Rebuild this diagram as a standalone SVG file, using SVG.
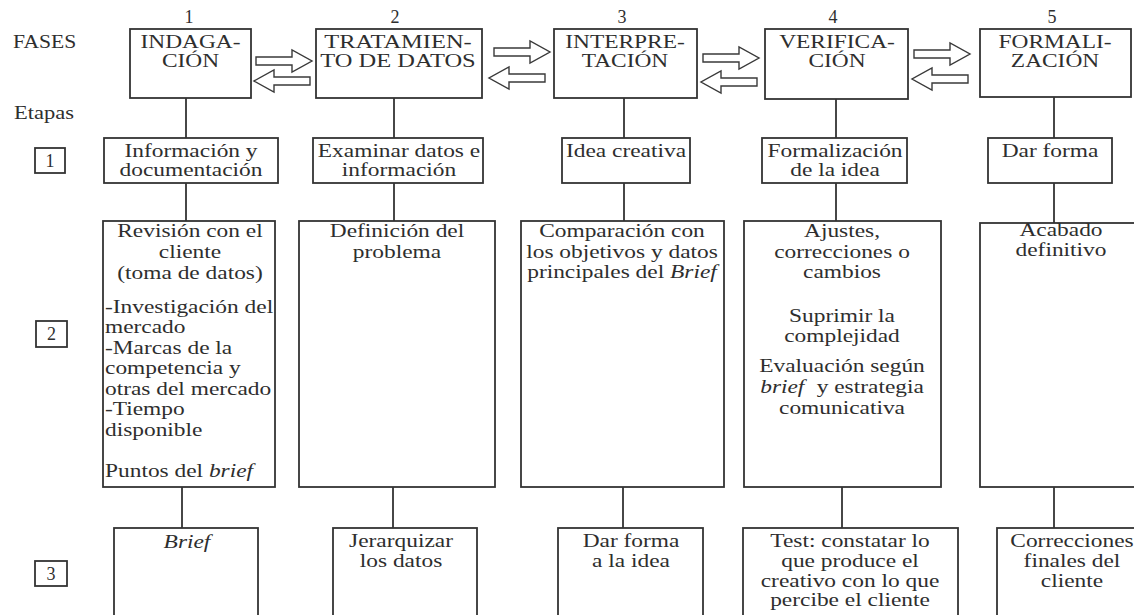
<svg xmlns="http://www.w3.org/2000/svg" width="1134" height="615" viewBox="0 0 1134 615">
  <style>
    .box { fill: #fff; stroke: #333; stroke-width: 1.8; }
    .ln { stroke: #333; stroke-width: 1.8; fill: none; }
    .arr { fill: #fff; stroke: #3a3a3a; stroke-width: 1.4; stroke-linejoin: miter; }
    text { font-family: "Liberation Serif", "Times New Roman", serif; font-size: 18px; fill: #2e2e2e; }
    .c { text-anchor: middle; }
    .i { font-style: italic; }
  </style>
  <defs>
    <!-- hollow block arrow, tail at origin, pointing right -->
    <path id="arrow-r" d="M0,-4H36V-11L56,0L36,11V4H0Z"/>
  </defs>

  <rect width="1134" height="615" fill="#fff"/>

  <!-- row labels -->
  <g id="row-labels">
    <text transform="matrix(1.2 0 0 1 13 0)" x="0" y="48">FASES</text>
    <text transform="matrix(1.25 0 0 1 14 0)" x="0" y="119">Etapas</text>
    <rect class="box" x="35" y="148" width="30" height="25"/>
    <text class="c" x="50" y="167">1</text>
    <rect class="box" x="36" y="321" width="31" height="26"/>
    <text class="c" x="51.5" y="340">2</text>
    <rect class="box" x="35" y="561" width="32" height="25"/>
    <text class="c" x="51" y="580">3</text>
  </g>

  <!-- connectors -->
  <g id="connectors">
    <line class="ln" x1="186" y1="98" x2="186" y2="138"/>
    <line class="ln" x1="186" y1="183" x2="186" y2="221"/>
    <line class="ln" x1="182" y1="487" x2="182" y2="528"/>
    <line class="ln" x1="394" y1="98" x2="394" y2="138"/>
    <line class="ln" x1="394" y1="183" x2="394" y2="221"/>
    <line class="ln" x1="393" y1="487" x2="393" y2="528"/>
    <line class="ln" x1="624" y1="98" x2="624" y2="138"/>
    <line class="ln" x1="624" y1="183" x2="624" y2="221"/>
    <line class="ln" x1="623" y1="487" x2="623" y2="528"/>
    <line class="ln" x1="836" y1="99" x2="836" y2="138"/>
    <line class="ln" x1="836" y1="183" x2="836" y2="221"/>
    <line class="ln" x1="842" y1="487" x2="842" y2="528"/>
    <line class="ln" x1="1054" y1="97" x2="1054" y2="138"/>
    <line class="ln" x1="1054" y1="183" x2="1054" y2="223"/>
    <line class="ln" x1="1054" y1="487" x2="1054" y2="528"/>

    <use href="#arrow-r" class="arr" transform="translate(256,61)"/>
    <use href="#arrow-r" class="arr" transform="translate(310,81) scale(-1,1)"/>
    <use href="#arrow-r" class="arr" transform="translate(494,52)"/>
    <use href="#arrow-r" class="arr" transform="translate(545,78) scale(-1,1)"/>
    <use href="#arrow-r" class="arr" transform="translate(703,58)"/>
    <use href="#arrow-r" class="arr" transform="translate(757,82) scale(-1,1)"/>
    <use href="#arrow-r" class="arr" transform="translate(914,54)"/>
    <use href="#arrow-r" class="arr" transform="translate(968,79) scale(-1,1)"/>
  </g>

  <!-- phases -->
  <g id="fase-1">
    <text class="c" x="189" y="23">1</text>
    <rect class="box" x="130" y="29" width="121" height="69"/>
    <text class="c" transform="matrix(1.3 0 0 1 190.5 0)"><tspan x="0" y="48">INDAGA-</tspan><tspan x="0" y="67">CIÓN</tspan></text>
  </g>
  <g id="fase-2">
    <text class="c" x="395" y="23">2</text>
    <rect class="box" x="316" y="29" width="166" height="69"/>
    <text class="c" transform="matrix(1.36 0 0 1 398 0)"><tspan x="0" y="48">TRATAMIEN-</tspan><tspan x="0" y="67">TO DE DATOS</tspan></text>
  </g>
  <g id="fase-3">
    <text class="c" x="622" y="23">3</text>
    <rect class="box" x="554" y="29" width="143" height="69"/>
    <text class="c" transform="matrix(1.3 0 0 1 625 0)"><tspan x="0" y="48">INTERPRE-</tspan><tspan x="0" y="67">TACIÓN</tspan></text>
  </g>
  <g id="fase-4">
    <text class="c" x="833" y="23">4</text>
    <rect class="box" x="765" y="29" width="143" height="70"/>
    <text class="c" transform="matrix(1.3 0 0 1 837 0)"><tspan x="0" y="48">VERIFICA-</tspan><tspan x="0" y="67">CIÓN</tspan></text>
  </g>
  <g id="fase-5">
    <text class="c" x="1052" y="23">5</text>
    <rect class="box" x="980" y="29" width="151" height="68"/>
    <text class="c" transform="matrix(1.3 0 0 1 1055 0)"><tspan x="0" y="48">FORMALI-</tspan><tspan x="0" y="67">ZACIÓN</tspan></text>
  </g>

  <!-- stage 1 -->
  <g id="etapa1-fase1">
    <rect class="box" x="104" y="138" width="174" height="45"/>
    <text class="c" transform="matrix(1.3 0 0 1 191 0)"><tspan x="0" y="157">Información y</tspan><tspan x="0" y="176">documentación</tspan></text>
  </g>
  <g id="etapa1-fase2">
    <rect class="box" x="313" y="138" width="170" height="45"/>
    <text class="c" transform="matrix(1.3 0 0 1 399 0)"><tspan x="0" y="157">Examinar datos e</tspan><tspan x="0" y="176">información</tspan></text>
  </g>
  <g id="etapa1-fase3">
    <rect class="box" x="562" y="138" width="128" height="45"/>
    <text class="c" transform="matrix(1.3 0 0 1 626 0)"><tspan x="0" y="157">Idea creativa</tspan></text>
  </g>
  <g id="etapa1-fase4">
    <rect class="box" x="762" y="138" width="145" height="45"/>
    <text class="c" transform="matrix(1.3 0 0 1 835 0)"><tspan x="0" y="157">Formalización</tspan><tspan x="0" y="176">de la idea</tspan></text>
  </g>
  <g id="etapa1-fase5">
    <rect class="box" x="988" y="138" width="124" height="45"/>
    <text class="c" transform="matrix(1.3 0 0 1 1050 0)"><tspan x="0" y="157">Dar forma</tspan></text>
  </g>

  <!-- stage 2 -->
  <g id="etapa2-fase1">
    <rect class="box" x="103" y="221" width="172" height="266"/>
    <text class="c" transform="matrix(1.3 0 0 1 190 0)"><tspan x="0" y="237">Revisión con el</tspan><tspan x="0" y="258">cliente</tspan><tspan x="0" y="279">(toma de datos)</tspan></text>
    <text transform="matrix(1.3 0 0 1 105 0)"><tspan x="0" y="313">-Investigación del</tspan><tspan x="0" y="333.5">mercado</tspan><tspan x="0" y="354">-Marcas de la</tspan><tspan x="0" y="374.5">competencia y</tspan><tspan x="0" y="395">otras del mercado</tspan><tspan x="0" y="415.5">-Tiempo</tspan><tspan x="0" y="436">disponible</tspan><tspan x="0" y="477">Puntos del <tspan class="i">brief</tspan></tspan></text>
  </g>
  <g id="etapa2-fase2">
    <rect class="box" x="299" y="221" width="196" height="266"/>
    <text class="c" transform="matrix(1.3 0 0 1 397 0)"><tspan x="0" y="237">Definición del</tspan><tspan x="0" y="258">problema</tspan></text>
  </g>
  <g id="etapa2-fase3">
    <rect class="box" x="521" y="221" width="203" height="266"/>
    <text class="c" transform="matrix(1.3 0 0 1 622 0)"><tspan x="0" y="237">Comparación con</tspan><tspan x="0" y="258">los objetivos y datos</tspan><tspan x="0" y="278">principales del <tspan class="i">Brief</tspan></tspan></text>
  </g>
  <g id="etapa2-fase4">
    <rect class="box" x="744" y="221" width="197" height="266"/>
    <text class="c" transform="matrix(1.3 0 0 1 842 0)"><tspan x="0" y="237">Ajustes,</tspan><tspan x="0" y="258">correcciones o</tspan><tspan x="0" y="278">cambios</tspan><tspan x="0" y="322">Suprimir la</tspan><tspan x="0" y="342">complejidad</tspan><tspan x="0" y="372">Evaluación según</tspan><tspan x="0" y="393"><tspan class="i">brief</tspan><tspan dx="5"> y estrategia</tspan></tspan><tspan x="0" y="414">comunicativa</tspan></text>
  </g>
  <g id="etapa2-fase5">
    <rect class="box" x="980" y="223" width="170" height="264"/>
    <text class="c" transform="matrix(1.3 0 0 1 1061 0)"><tspan x="0" y="236">Acabado</tspan><tspan x="0" y="256">definitivo</tspan></text>
  </g>

  <!-- stage 3 -->
  <g id="etapa3-fase1">
    <rect class="box" x="114" y="528" width="144" height="100"/>
    <text class="c i" transform="matrix(1.3 0 0 1 187 0)"><tspan x="0" y="548">Brief</tspan></text>
  </g>
  <g id="etapa3-fase2">
    <rect class="box" x="333" y="528" width="144" height="100"/>
    <text class="c" transform="matrix(1.3 0 0 1 401 0)"><tspan x="0" y="547">Jerarquizar</tspan><tspan x="0" y="567">los datos</tspan></text>
  </g>
  <g id="etapa3-fase3">
    <rect class="box" x="558" y="528" width="145" height="100"/>
    <text class="c" transform="matrix(1.3 0 0 1 631 0)"><tspan x="0" y="547">Dar forma</tspan><tspan x="0" y="567">a la idea</tspan></text>
  </g>
  <g id="etapa3-fase4">
    <rect class="box" x="743" y="528" width="215" height="100"/>
    <text class="c" transform="matrix(1.3 0 0 1 850 0)"><tspan x="0" y="547">Test: constatar lo</tspan><tspan x="0" y="567">que produce el</tspan><tspan x="0" y="587">creativo con lo que</tspan><tspan x="0" y="606">percibe el cliente</tspan></text>
  </g>
  <g id="etapa3-fase5">
    <rect class="box" x="997" y="528" width="150" height="100"/>
    <text class="c" transform="matrix(1.3 0 0 1 1072 0)"><tspan x="0" y="547">Correcciones</tspan><tspan x="0" y="567">finales del</tspan><tspan x="0" y="587">cliente</tspan></text>
  </g>
</svg>
